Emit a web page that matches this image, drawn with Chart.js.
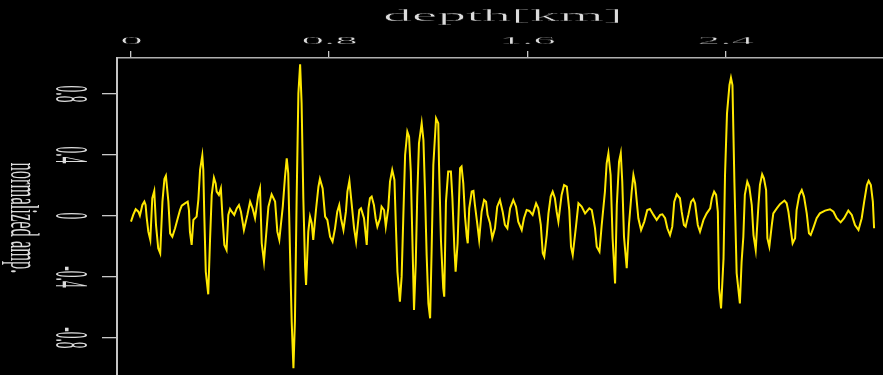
<!DOCTYPE html>
<html>
<head>
<meta charset="utf-8">
<title>depth trace</title>
<script src="https://cdn.jsdelivr.net/npm/chart.js@4.4.0/dist/chart.umd.min.js"></script>
<style>
  html, body { margin: 0; padding: 0; background: #000; overflow: hidden; }
  canvas { display: block; }
</style>
</head>
<body>
<canvas id="trace" width="883" height="375"></canvas>
<script>
// Trace samples: depth in km and normalized amplitude
const depthKm = [
  0.000,0.009,0.019,0.030,0.036,0.046,0.054,0.059,0.063,0.070,0.078,0.086,0.094,0.101,0.110,0.118,0.127,0.135,0.141,0.151,
  0.158,0.167,0.178,0.187,0.198,0.205,0.218,0.229,0.234,0.238,0.245,0.252,0.265,0.272,0.279,0.288,0.292,0.296,0.302,0.312,
  0.319,0.326,0.335,0.342,0.346,0.355,0.363,0.369,0.377,0.386,0.393,0.400,0.407,0.417,0.427,0.436,0.444,
  0.456,0.470,0.481,0.491,0.501,0.514,0.521,0.528,0.537,0.555,0.568,0.582,0.591,0.599,0.613,0.622,0.629,0.635,0.642,0.649,
  0.656,0.662,0.669,0.676,0.683,0.689,0.696,0.703,0.707,0.716,0.723,0.730,0.736,0.747,0.757,0.763,0.774,0.784,0.793,0.804,
  0.814,0.824,0.833,0.841,0.848,0.858,0.868,0.874,0.882,0.891,0.901,0.909,0.922,0.929,0.941,0.952,
  0.959,0.965,0.972,0.981,0.988,0.995,1.006,1.012,1.022,1.029,1.039,1.046,1.055,1.064,1.069,1.076,1.086,1.093,1.100,1.107,
  1.116,1.123,1.130,1.136,1.143,1.150,1.156,1.163,1.174,1.181,1.187,1.194,1.201,1.208,1.214,1.221,1.232,1.241,1.244,1.252,
  1.261,1.265,1.272,1.281,1.292,1.298,1.306,1.311,1.319,1.329,1.335,1.342,1.349,1.356,1.360,1.366,1.376,1.383,1.389,1.399,
  1.406,1.416,1.426,1.434,1.440,1.450,1.459,
  1.470,1.479,1.490,1.501,1.510,1.520,1.531,1.544,1.555,1.564,1.578,1.587,1.598,1.609,1.622,1.636,1.645,1.655,1.663,1.669,
  1.679,1.686,1.695,1.703,1.712,1.719,1.726,1.739,1.749,1.760,1.770,1.777,1.784,1.797,1.807,1.820,1.834,1.840,1.851,1.861,
  1.874,1.881,1.892,1.901,1.914,1.921,1.928,1.937,1.945,1.955,
  1.962,1.971,1.978,1.984,1.991,2.002,2.011,2.022,2.029,2.036,2.042,2.049,2.060,2.073,2.085,2.096,2.110,2.123,2.137,2.146,
  2.157,2.166,2.177,2.186,2.194,2.204,2.217,2.224,2.233,2.240,2.251,2.262,2.271,2.278,2.289,2.298,2.312,2.325,2.339,2.346,
  2.355,2.363,2.370,2.375,2.383,2.393,2.399,2.407,2.417,2.423,2.429,2.437,2.446,
  2.459,2.466,2.473,2.479,2.489,2.497,2.507,2.514,2.523,2.534,2.540,2.549,2.556,2.565,2.570,2.578,2.588,2.594,2.608,2.621,
  2.639,2.648,2.655,2.662,2.672,2.682,2.688,2.699,2.709,2.718,2.729,2.738,2.745,2.755,2.769,2.782,2.803,2.823,2.837,2.850,
  2.866,2.880,2.897,2.911,2.924,2.938,2.951,2.961,2.972,2.979,2.988,2.996,3.001
];

const amplitude = [
  -0.037,0.007,0.044,0.028,0.002,0.072,0.094,0.072,-0.004,-0.103,-0.157,0.116,0.164,-0.059,-0.212,-0.245,0.094,0.243,0.264,0.094,
  -0.114,-0.136,-0.081,-0.026,0.039,0.068,0.083,0.094,0.039,-0.103,-0.190,-0.026,-0.004,0.105,0.302,0.396,0.302,0.007,-0.365,-0.514,
  -0.168,0.138,0.251,0.214,0.160,0.138,0.181,0.007,-0.190,-0.223,0.007,0.046,0.028,0.007,0.050,0.072,0.028,
  -0.092,0.007,0.094,0.050,-0.015,0.138,0.181,-0.179,-0.299,0.061,0.142,0.094,-0.103,-0.157,0.061,0.258,0.378,0.280,-0.223,-0.693,
  -0.999,-0.693,0.116,0.804,0.995,0.739,0.116,-0.332,-0.452,-0.103,-0.004,-0.048,-0.157,0.039,0.192,0.243,0.181,-0.004,-0.026,-0.136,
  -0.168,-0.081,0.028,0.072,-0.015,-0.092,0.028,0.160,0.230,0.083,-0.081,-0.168,0.039,0.050,-0.015,-0.190,
  0.050,0.116,0.127,0.072,-0.015,-0.070,-0.015,0.061,0.039,-0.070,0.050,0.225,0.302,0.236,-0.026,-0.365,-0.562,-0.398,0.007,0.400,
  0.553,0.520,0.291,-0.125,-0.616,-0.310,0.127,0.477,0.608,0.498,0.181,-0.256,-0.573,-0.671,-0.234,0.334,0.640,0.608,0.334,-0.168,
  -0.474,-0.529,0.094,0.291,0.291,0.116,-0.212,-0.365,-0.179,0.313,0.324,0.214,-0.004,-0.136,-0.179,0.050,0.160,0.164,0.072,-0.059,
  -0.157,0.028,0.105,0.094,0.007,-0.048,-0.146,
  -0.081,0.061,0.105,0.028,-0.059,-0.081,0.050,0.105,0.061,-0.037,-0.092,-0.015,0.039,0.033,0.007,0.083,0.050,-0.059,-0.245,-0.267,
  -0.125,0.017,0.127,0.160,0.116,0.028,-0.037,0.138,0.203,0.192,0.039,-0.201,-0.256,-0.070,0.083,0.061,0.017,0.028,0.050,0.039,
  -0.081,-0.201,-0.234,-0.059,0.160,0.345,0.411,0.269,-0.146,-0.442,
  0.072,0.356,0.411,0.225,-0.136,-0.343,-0.059,0.160,0.269,0.214,0.105,-0.015,-0.092,-0.037,0.039,0.046,0.007,-0.026,0.007,0.011,
  -0.015,-0.081,-0.125,-0.070,0.094,0.142,0.116,0.028,-0.059,-0.070,0.007,0.094,0.111,0.083,-0.059,-0.103,-0.026,0.017,0.050,0.116,
  0.160,0.138,0.028,-0.474,-0.606,-0.278,0.269,0.673,0.859,0.907,0.859,0.214,-0.376,
  -0.573,-0.299,-0.136,0.138,0.225,0.192,0.072,-0.125,-0.223,0.072,0.203,0.273,0.247,0.170,-0.146,-0.201,-0.059,0.017,0.050,0.077,
  0.101,0.083,0.028,-0.059,-0.179,-0.146,0.039,0.138,0.170,0.127,0.017,-0.114,-0.125,-0.081,-0.015,0.017,0.035,0.044,0.028,-0.015,
  -0.042,-0.015,0.035,0.007,-0.059,-0.092,-0.015,0.094,0.203,0.230,0.203,0.094,-0.081
];

// Axis ticks and labels
const xTickValues = [0, 0.8, 1.6, 2.4];
const xTickLabels = ['0', '0.8', '1.6', '2.4'];
const yTickValues = [-0.8, -0.4, 0, 0.4, 0.8];
const yTickLabels = ['-0.8', '-0.4', '0', '0.4', '0.8'];
const xTitle = 'depth[km]';
const yTitle = 'normalized amp.';

const TEXT_COLOR = '#dcdcdc';
const TEXT_FONT = '"Liberation Serif", "DejaVu Serif", serif';

// Draw a string with independent horizontal / vertical stretch, optionally turned.
// A thin background-coloured outline keeps the widened stems light.
function stretchedText(ctx, str, x, y, size, sx, sy, angle, thin) {
  ctx.save();
  ctx.translate(x, y);
  ctx.scale(sx, sy);
  if (angle) ctx.rotate(angle);
  ctx.font = size + 'px ' + TEXT_FONT;
  ctx.fillStyle = TEXT_COLOR;
  ctx.textAlign = 'center';
  ctx.textBaseline = 'alphabetic';
  ctx.fillText(str, 0, 0);
  if (thin) {
    ctx.strokeStyle = '#000';
    ctx.lineWidth = thin;
    ctx.strokeText(str, 0, 0);
  }
  ctx.restore();
}

// Axis labels and titles in the stretched lettering of the plot
const axisText = {
  id: 'axisText',
  afterDraw(chart) {
    const ctx = chart.ctx;
    const xs = chart.scales.x;
    const ys = chart.scales.y;
    xTickValues.forEach((v, i) => {
      stretchedText(ctx, xTickLabels[i], xs.getPixelForValue(v) + 0.5, 44.3, 12, 3.75, 0.87, 0, 0.3);
    });
    yTickValues.forEach((v, i) => {
      stretchedText(ctx, yTickLabels[i], 56, ys.getPixelForValue(v), 12, 3.78, 1.12, Math.PI / 2, 0);
    });
    stretchedText(ctx, xTitle, 503, 20.7, 12, 4.8, 1.31, 0, 0.28);
    stretchedText(ctx, yTitle, 11, 218, 12, 3.3, 1.375, Math.PI / 2, 0);
  }
};

new Chart(document.getElementById('trace'), {
  type: 'line',
  data: {
    datasets: [{
      data: depthKm.map((d, i) => ({ x: d, y: amplitude[i] })),
      borderColor: '#ffe800',
      borderWidth: 2,
      pointRadius: 0,
      tension: 0,
      fill: false
    }]
  },
  options: {
    responsive: false,
    animation: false,
    devicePixelRatio: 1,
    layout: { padding: { top: 51, left: 102, right: 0, bottom: 0 } },
    plugins: { legend: { display: false }, tooltip: { enabled: false } },
    scales: {
      x: {
        type: 'linear',
        position: 'top',
        min: -0.0565,
        max: 3.037,
        afterBuildTicks: s => { s.ticks = xTickValues.map(v => ({ value: v })); },
        ticks: { display: false },
        grid: { display: true, drawOnChartArea: false, drawTicks: true, tickLength: 7, color: '#c8c8c8', lineWidth: 1.3 },
        border: { display: true, color: '#b0b0b0', width: 1.5 }
      },
      y: {
        type: 'linear',
        position: 'left',
        min: -1.043,
        max: 1.036,
        afterBuildTicks: s => { s.ticks = yTickValues.map(v => ({ value: v })); },
        ticks: { display: false },
        grid: { display: true, drawOnChartArea: false, drawTicks: true, tickLength: 15, color: '#c8c8c8', lineWidth: 1.3 },
        border: { display: true, color: '#c4c4c4', width: 2 }
      }
    }
  },
  plugins: [axisText]
});
</script>
</body>
</html>
